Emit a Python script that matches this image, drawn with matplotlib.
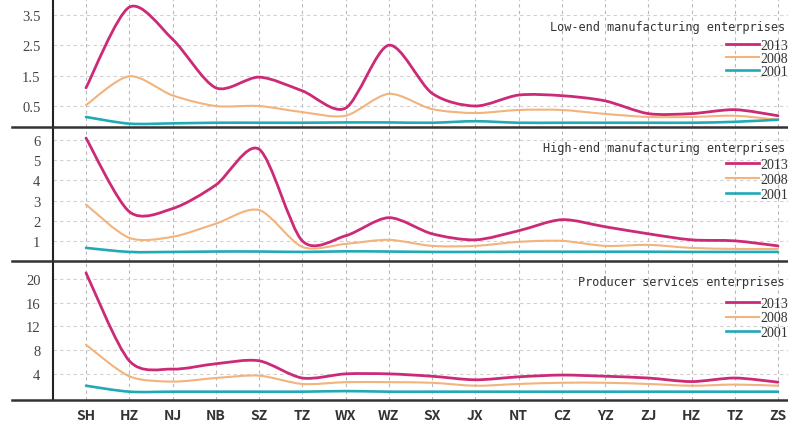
import numpy as np
import matplotlib
matplotlib.use('Agg')
import matplotlib.pyplot as plt
from matplotlib.path import Path
from matplotlib.patches import PathPatch
from matplotlib.lines import Line2D

# ── Data ─────────────────────────────────────────────────────────────────────
CITIES = ["SH", "HZ", "NJ", "NB", "SZ", "TZ", "WX", "WZ", "SX",
          "JX", "NT", "CZ", "YZ", "ZJ", "HZ", "TZ", "ZS"]
YEARS = ["2013", "2008", "2001"]

LOW_2013 = [1.1, 3.75, 2.7, 1.1, 1.45, 1.0, 0.43, 2.5, 0.92,
            0.5, 0.86, 0.84, 0.67, 0.25, 0.25, 0.38, 0.18]
LOW_2008 = [0.53, 1.48, 0.85, 0.5, 0.5, 0.3, 0.18, 0.9, 0.4,
            0.27, 0.37, 0.37, 0.24, 0.14, 0.14, 0.18, 0.05]
LOW_2001 = [0.14, -0.08, -0.07, -0.05, -0.05, -0.05, -0.04, -0.04, -0.05,
            0.0, -0.05, -0.05, -0.05, -0.05, -0.05, -0.02, 0.05]

HIGH_2013 = [6.1, 2.45, 2.6, 3.77, 5.55, 1.0, 1.25, 2.15, 1.35,
             1.05, 1.5, 2.05, 1.7, 1.35, 1.05, 1.0, 0.75]
HIGH_2008 = [2.8, 1.15, 1.2, 1.85, 2.53, 0.7, 0.85, 1.05, 0.75,
             0.75, 0.95, 1.0, 0.75, 0.8, 0.65, 0.6, 0.6]
HIGH_2001 = [0.65, 0.45, 0.45, 0.47, 0.47, 0.45, 0.48, 0.47, 0.45,
             0.45, 0.46, 0.46, 0.46, 0.46, 0.45, 0.45, 0.45]

PROD_2013 = [21.0, 6.2, 4.8, 5.7, 6.2, 3.3, 4.0, 4.0, 3.6,
             3.0, 3.5, 3.8, 3.6, 3.3, 2.7, 3.3, 2.6]
PROD_2008 = [8.9, 3.6, 2.7, 3.3, 3.7, 2.3, 2.6, 2.6, 2.5,
             2.0, 2.3, 2.5, 2.5, 2.3, 2.0, 2.2, 2.0]
PROD_2001 = [2.0, 1.0, 1.0, 1.0, 1.0, 1.0, 1.1, 1.0, 1.0,
             1.0, 1.0, 1.0, 1.0, 1.0, 1.0, 1.0, 1.0]

PANELS = [
    ("Low-end manufacturing enterprises", [LOW_2013, LOW_2008, LOW_2001],
     (-0.19, 4.02), [0.5, 1.5, 2.5, 3.5], ["0.5", "1.5", "2.5", "3.5"]),
    ("High-end manufacturing enterprises", [HIGH_2013, HIGH_2008, HIGH_2001],
     (0.0, 6.65), [1, 2, 3, 4, 5, 6], ["1", "2", "3", "4", "5", "6"]),
    ("Producer services enterprises", [PROD_2013, PROD_2008, PROD_2001],
     (-0.4, 23.0), [4, 8, 12, 16, 20], ["4", "8", "12", "16", "20"]),
]

COLORS = ["#cc2a76", "#f2b37c", "#22a9b6"]
WIDTHS = [2.0, 1.5, 1.9]

# pixel layout of the reference (788 x 427)
W, H = 788, 427
LEFT, RIGHT = 53, 800
PANEL_PX = [(0, 128), (128, 262), (262, 401)]
TITLE_Y = [27, 149, 283]
LEGEND_TOP = [40, 159, 298]
LEGEND_SPACING = [0.0, 0.15, 0.1]


def smooth_path(x, y, t=7.0):
    """Catmull-Rom style curve through the data points, as bezier segments."""
    pts = np.column_stack([x, y]).astype(float)
    n = len(pts)
    verts = [pts[0]]
    codes = [Path.MOVETO]
    for i in range(n - 1):
        p0 = pts[max(i - 1, 0)]
        p1 = pts[i]
        p2 = pts[i + 1]
        p3 = pts[min(i + 2, n - 1)]
        verts += [p1 + (p2 - p0) / t, p2 - (p3 - p1) / t, p2]
        codes += [Path.CURVE4] * 3
    return Path(verts, codes)


fig = plt.figure(figsize=(W / 100, H / 100), dpi=100)
fig.patch.set_facecolor("white")

x = np.arange(len(CITIES))
x_left = -(86 - LEFT) / 43.25
x_right = (RIGHT - 86) / 43.25

for k, (title, series, ylim, yticks, ylabels) in enumerate(PANELS):
    top_px, bot_px = PANEL_PX[k]
    ax = fig.add_axes([LEFT / W, 1 - bot_px / H,
                       (RIGHT - LEFT) / W, (bot_px - top_px) / H])
    ax.set_xlim(x_left, x_right)
    ax.set_ylim(*ylim)

    for xi in x:
        ax.axvline(xi, color="#b8b8b8", lw=0.8, ls=(0, (3, 3)), zorder=0)
    for yt in yticks:
        ax.axhline(yt, color="#d0d0d0", lw=0.8, ls=(0, (3, 3)), zorder=0)

    for vals, c, lw in zip(series, COLORS, WIDTHS):
        ax.add_patch(PathPatch(smooth_path(x, vals), fill=False,
                               edgecolor=c, lw=lw, capstyle="round", zorder=3))

    ax.set_yticks(yticks)
    ax.set_yticklabels(ylabels, fontfamily="Liberation Serif",
                       fontsize=10.5, color="#444444")
    ax.tick_params(axis="y", length=0, pad=9)
    if k == 2:
        ax.set_xticks(x)
        ax.set_xticklabels(CITIES, fontfamily="Noto Sans CJK SC",
                           fontweight="bold", fontsize=10, color="#333333")
        ax.tick_params(axis="x", length=0, pad=6)
    else:
        ax.set_xticks([])

    for s in ["top", "right", "bottom"]:
        ax.spines[s].set_visible(False)
    ax.spines["left"].set_color("#222222")
    ax.spines["left"].set_linewidth(1.5)

    # thick separator line under each panel, reaching past the y axis
    yb = 1 - bot_px / H
    fig.add_artist(Line2D([12 / W, 1], [yb, yb], color="#333333", lw=1.8))

    fig.text(785 / W, 1 - TITLE_Y[k] / H, title, fontfamily="DejaVu Sans Mono",
             fontsize=8.6, color="#333333", va="center", ha="right")

    handles = [Line2D([], [], color=c, lw=lw) for c, lw in zip(COLORS, WIDTHS)]
    leg = ax.legend(handles, YEARS, loc="upper left",
                    bbox_to_anchor=((726 - LEFT) / (RIGHT - LEFT),
                                    1 - (LEGEND_TOP[k] - top_px) / (bot_px - top_px)),
                    frameon=False, borderpad=0, borderaxespad=0,
                    handlelength=2.4, handletextpad=0.1,
                    labelspacing=LEGEND_SPACING[k],
                    prop={"family": "Liberation Serif", "size": 10})
    for t in leg.get_texts():
        t.set_color("#333333")

fig.savefig("out.png", dpi=100)
